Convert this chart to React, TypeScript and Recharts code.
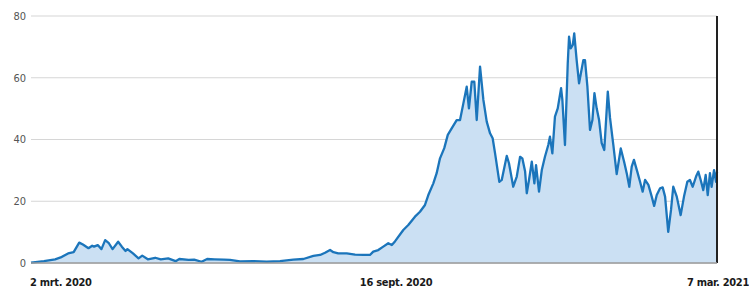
import { AreaChart, Area, XAxis, YAxis, CartesianGrid, ReferenceLine } from 'recharts'

// day offset from 2 March 2020
const days = [
  0, 7, 13, 16, 20, 23, 26, 28, 31, 33, 34, 36, 38, 40, 42, 44, 47, 49, 51, 52,
  55, 58, 60, 63, 67, 70, 74, 78, 80, 85, 88, 92, 95, 99, 104, 107.3, 112.7, 119.9, 127.1, 134.3,
  141.5, 146.9, 152.3, 155.9, 158.6, 161.3, 163.1, 165.7, 170.3, 174.8, 179.2, 182.8, 184.6, 187.3, 190, 192.7,
  194.6, 196.3, 200.8, 203.5, 207.1, 209.8, 212.5, 214.3, 217, 218.8, 220.6, 222.9, 224.8, 226.9, 229.6, 231.4,
  233.2, 235, 236.2, 237.7, 239.1, 240.4, 242.2, 244, 245.8, 247.6, 249, 250.3, 252.6, 253.9, 256.6, 257.8,
  260.1, 262, 263.8, 265, 266.5, 267.4, 268.6, 270.1, 271.5, 272.4, 274, 275.5, 277.2, 279, 279.9, 281.2,
  282.6, 284.1, 285.9, 286.6, 288, 289.5, 290.2, 291.1, 292.2, 293, 294.3, 295.6, 297.9, 298.8, 300.1, 301.5,
  302.8, 303.9, 305.1, 306.4, 307.8, 309.2, 311.1, 312.3, 314.1, 315.9, 318.1, 319.9, 321.3, 322.7, 324, 325.2,
  327, 328.5, 329.9, 331.2, 333, 334.8, 336.1, 337.5, 339.3, 340.7, 342, 343.7, 345.2, 346.4, 348.3, 350.4,
  352.2, 354, 355.4, 356.9, 358.7, 359.9, 361.2, 362.6, 363.9, 365, 366.2, 367.1, 368.4, 369.5, 370,
]
const values = [
  0.1, 0.6, 1.2, 1.8, 3.1, 3.5, 6.6, 6.0, 4.8, 5.6, 5.3, 5.8, 4.5, 7.4, 6.4, 4.5, 6.9, 5.3, 3.9, 4.5,
  3.1, 1.5, 2.4, 1.2, 1.7, 1.2, 1.5, 0.6, 1.3, 1.0, 1.1, 0.4, 1.3, 1.2, 1.1, 1.0, 0.5, 0.6, 0.4, 0.6,
  1.1, 1.3, 2.3, 2.6, 3.3, 4.2, 3.5, 3.1, 3.1, 2.7, 2.6, 2.6, 3.7, 4.2, 5.3, 6.4,
  5.8, 7.0, 10.7, 12.3, 15.0, 16.6, 18.8, 22.0, 25.8, 29.1, 33.9, 37.2, 41.5, 43.6, 46.3, 46.3,
  51.7, 57.1, 50.1, 58.7, 58.7, 46.3, 63.6, 52.8, 45.8, 42.0, 40.4, 35.5, 26.3, 26.9, 34.7, 32.3,
  24.7, 28.0, 34.4, 33.9, 29.6, 22.6, 26.9, 32.8, 25.8, 31.7, 23.1, 30.1, 34.4, 38.2, 40.9, 35.5,
  47.4, 50.1, 56.6, 52.8, 38.2, 64.7, 73.3, 69.5, 70.6, 74.4, 65.7, 58.2, 65.7, 65.7, 57.1, 43.1,
  46.3, 55.0, 50.1, 46.3, 38.8, 36.6, 55.5, 47.0, 38.2, 28.8, 37.1, 32.8, 29.1, 24.7, 31.2, 33.4,
  29.6, 26.3, 23.1, 26.9, 25.3, 21.5, 18.5, 22.0, 24.2, 24.5, 21.5, 10.1, 17.2, 24.7, 21.5, 15.5,
  21.5, 26.3, 26.9, 24.7, 28.0, 29.6, 26.9, 23.6, 28.5, 22.0, 29.1, 24.7, 30.1, 26.3, 29.5,
]
const xTicks = [0, 198, 370]
const xLabels = ['2 mrt. 2020', '16 sept. 2020', '7 mar. 2021']
const yTicks = [0, 20, 40, 60, 80]

const data = days.map((d, i) => ({ day: d, value: values[i] }))

const FONT = '"DejaVu Sans Condensed", "Liberation Sans Narrow", sans-serif'

function DateTick(props: any) {
  const { x, y, payload, index } = props
  const anchor = index === 0 ? 'start' : index === xTicks.length - 1 ? 'end' : 'middle'
  const dx = index === 0 ? -1 : index === xTicks.length - 1 ? 32 : -2
  return (
    <text x={x + dx} y={y + 15} textAnchor={anchor} fill="#1a1a1a" fontSize={11} fontWeight={700} fontFamily={FONT} letterSpacing={-0.3}>
      {xLabels[xTicks.indexOf(payload.value)]}
    </text>
  )
}

export default function App() {
  return (
    <div style={{ position: 'absolute', left: 0, top: 0, background: '#fff' }}>
      <AreaChart width={749} height={292} data={data} margin={{ top: 16, right: 32, bottom: 0, left: 0 }}>
        <CartesianGrid vertical={false} stroke="#d6d6d6" strokeWidth={1.2} />
        <XAxis
          dataKey="day"
          type="number"
          domain={[0, 370]}
          ticks={xTicks}
          tick={<DateTick />}
          tickLine={false}
          axisLine={{ stroke: '#9a9a9a', strokeWidth: 1.5 }}
          height={29}
          interval={0}
        />
        <YAxis
          domain={[0, 80]}
          ticks={yTicks}
          width={31}
          tickSize={3}
          tickLine={false}
          axisLine={false}
          tick={{ fill: '#555', fontSize: 11, fontFamily: FONT }}
        />
        <Area
          dataKey="value"
          type="linear"
          stroke="#1b75bb"
          strokeWidth={2.3}
          strokeLinejoin="round"
          fill="#cbe0f3"
          fillOpacity={1}
          isAnimationActive={false}
          dot={false}
        />
        <ReferenceLine x={370} stroke="#222" strokeWidth={2} />
      </AreaChart>
    </div>
  )
}
